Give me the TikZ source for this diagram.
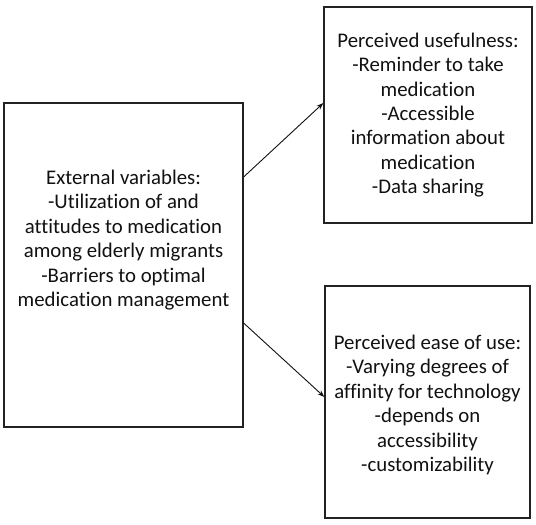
\documentclass[tikz,border=0pt]{standalone}
\usepackage{fontspec}
\setmainfont{Carlito}[Ligatures={NoCommon}]
\usepackage{tikz}
\usetikzlibrary{arrows.meta,calc,positioning}
\definecolor{tinta}{HTML}{111111}
\definecolor{borde}{HTML}{222222}
\tikzset{
  caja/.style={draw=borde,line width=1.2pt,fill=white,inner sep=0pt},
  texto/.style={align=center,text=tinta,font=\fontsize{20.8}{24.4}\selectfont,inner sep=0pt},
  flecha/.style={draw=tinta,line width=0.9pt,-{Stealth[length=7pt,width=5pt]}},
}
\begin{document}
\begin{tikzpicture}[x=1pt,y=-1pt]
\useasboundingbox (0,0) rectangle (536,525);
% boxes
\node[caja,minimum width=239pt,minimum height=324pt] (ext) at (123.5,265) {};
\node[caja,minimum width=208pt,minimum height=216pt] (util) at (428,115) {};
\node[caja,minimum width=205pt,minimum height=232pt] (facil) at (427.5,402) {};
% texts
\node[texto] (extT) at (123.5,240) {External variables:\\-Utilization of and\\attitudes to medication\\among elderly migrants\\-Barriers to optimal\\medication management};
\node[texto] (utilT) at (428,115) {Perceived usefulness:\\-Reminder to take\\medication\\-Accessible\\information about\\medication\\-Data sharing};
\node[texto] (facilT) at (427.5,405) {Perceived ease of use:\\-Varying degrees of\\affinity for technology\\-depends on\\accessibility\\-customizability};
% arrows
\draw[flecha] ([yshift=88pt]ext.east) -- ([yshift=12pt]util.west);
\draw[flecha] ([yshift=-58pt]ext.east) -- ([yshift=5pt]facil.west);
\end{tikzpicture}
\end{document}
